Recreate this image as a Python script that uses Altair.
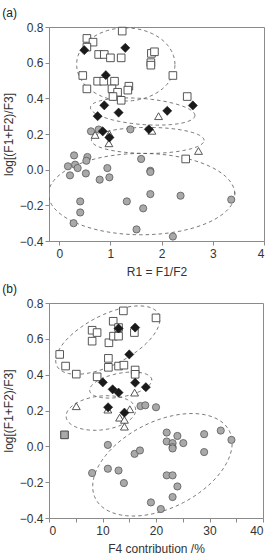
import altair as alt
import pandas as pd

FONT = "Liberation Sans"

# ---------------- panel (a): x = R1 = F1/F2 ----------------
a_sq_x = [1.23, 0.54, 0.66, 0.54, 0.77, 0.88, 1.00, 1.21, 1.80, 1.86, 1.79, 1.79, 2.22, 0.46,
          0.54, 0.75, 0.87, 1.08, 1.03, 1.14, 1.05, 1.36, 1.34, 1.21, 2.50, 2.47]
a_sq_y = [0.777, 0.736, 0.715, 0.687, 0.646, 0.646, 0.627, 0.627, 0.652, 0.661, 0.600, 0.586, 0.528, 0.528,
          0.453, 0.496, 0.496, 0.496, 0.453, 0.434, 0.410, 0.468, 0.446, 0.389, 0.410, 0.060]
a_di_x = [0.49, 1.29, 0.91, 0.88, 0.75, 1.16, 2.11, 2.61, 0.85, 1.75, 0.98]
a_di_y = [0.670, 0.683, 0.530, 0.361, 0.300, 0.320, 0.330, 0.360, 0.215, 0.226, 0.180]
a_tr_x = [1.94, 0.70, 0.98, 0.97, 1.81, 2.72]
a_tr_y = [0.300, 0.195, 0.200, 0.148, 0.218, 0.105]
a_ci_x = [0.62, 0.77, 1.39, 0.29, 0.17, 0.31, 0.36, 0.21, 0.55, 0.53, 0.52, 0.94, 0.98, 0.79,
          1.60, 1.78, 1.78, 1.78, 2.37, 3.36, 1.32, 0.41, 0.41, 1.64, 0.28, 1.51, 2.22]
a_ci_y = [0.215, 0.225, 0.226, 0.080, 0.019, 0.028, 0.009, -0.032, 0.071, 0.050, -0.021, 0.009, -0.043, -0.056,
          0.060, -0.006, -0.013, -0.137, -0.146, -0.168, -0.178, -0.178, -0.240, -0.217, -0.300, -0.335, -0.375]
a_gs_x = []
a_gs_y = []

# cluster outlines of panel (a): centre and two conjugate semi-axes (data units)
a_el_cx = [1.30, 1.63, 1.73, 1.61]
a_el_cy = [0.590, 0.326, 0.164, -0.137]
a_el_ux = [0.96, 1.02, 1.10, 1.82]
a_el_uy = [0.0, -0.022, 0.0, 0.0]
a_el_vx = [0.0, 0.0, 0.0, 0.0]
a_el_vy = [0.205, 0.073, 0.073, 0.228]

# ---------------- panel (b): x = F4 contribution / % ----------------
b_sq_x = [13.9, 20.0, 12.0, 8.06, 8.99, 8.06, 11.2, 12.05, 13.0, 15.96, 2.0, 3.1, 5.1,
          11.1, 11.1, 13.0, 14.0, 16.1, 16.1, 9.0, 13.0]
b_sq_y = [0.756, 0.717, 0.698, 0.648, 0.635, 0.587, 0.578, 0.615, 0.615, 0.635, 0.513, 0.448, 0.403,
          0.491, 0.441, 0.448, 0.453, 0.426, 0.402, 0.388, 0.663]
b_di_x = [13.0, 16.1, 15.0, 10.06, 11.9, 13.0, 16.1, 18.1, 11.05, 14.1]
b_di_y = [0.658, 0.663, 0.513, 0.357, 0.318, 0.300, 0.355, 0.330, 0.218, 0.188]
b_tr_x = [16.0, 5.1, 11.0, 15.1, 13.2, 14.1, 14.1]
b_tr_y = [0.300, 0.224, 0.205, 0.207, 0.160, 0.148, 0.110]
b_ci_x = [17.1, 18.0, 20.0, 22.0, 24.0, 22.0, 23.1, 23.1, 23.1, 25.1, 29.0, 32.1, 34.1, 29.0,
          11.0, 16.0, 17.0, 8.06, 11.0, 13.0, 14.0, 22.0, 23.1, 24.0, 23.1, 19.05, 20.9]
b_ci_y = [0.225, 0.229, 0.218, 0.077, 0.058, 0.027, 0.018, -0.004, -0.012, 0.018, 0.068, 0.088, 0.036, -0.032,
          0.008, -0.042, -0.023, -0.149, -0.125, -0.135, -0.205, -0.162, -0.162, -0.224, -0.283, -0.313, -0.350]
b_gs_x = [2.9]
b_gs_y = [0.064]

b_el_cx = [10.99, 13.4, 9.7, 21.2]
b_el_cy = [0.593, 0.342, 0.186, -0.103]
b_el_ux = [9.5, 5.8, 6.5, 13.0]
b_el_uy = [0.145, 0.028, 0.017, 0.139]
b_el_vx = [2.12, 0.0, 0.0, -0.93]
b_el_vy = [-0.124, 0.067, 0.095, 0.25]


def make_points(sq, di, tr, ci, gs):
    rows = []
    for kind, (xs, ys) in [("ci", ci), ("gs", gs), ("sq", sq), ("tr", tr), ("di", di)]:
        for x, y in zip(xs, ys):
            rows.append({"x": x, "y": y, "kind": kind})
    return pd.DataFrame(rows)


def make_ellipses(cx, cy, ux, uy, vx, vy):
    return pd.DataFrame({"id": list(range(len(cx))), "cx": cx, "cy": cy,
                         "ux": ux, "uy": uy, "vx": vx, "vy": vy})


def panel(pts, ells, xdom, xvals, xlabelexpr, xtitle, label, w, h):
    xenc = alt.X("x:Q", scale=alt.Scale(domain=xdom, nice=False, zero=False),
                 axis=alt.Axis(values=xvals, labelExpr=xlabelexpr, title=xtitle,
                               labelPadding=3, titlePadding=7))
    yenc = alt.Y("y:Q", scale=alt.Scale(domain=[-0.4, 0.8], nice=False, zero=False),
                 axis=alt.Axis(values=[-0.4, -0.2, 0.0, 0.2, 0.4, 0.6, 0.8], format=".1f",
                               title="log[(F1+F2)/F3]", labelPadding=2, titlePadding=4))

    outline = alt.Chart(ells).transform_calculate(
        t="sequence(0, 6.36, 0.05)"
    ).transform_flatten(["t"]).transform_calculate(
        x="datum.cx + datum.ux*cos(datum.t) + datum.vx*sin(datum.t)",
        y="datum.cy + datum.uy*cos(datum.t) + datum.vy*sin(datum.t)",
    ).mark_line(clip=True, strokeDash=[3.5, 3], color="#555", strokeWidth=0.8).encode(
        x=xenc, y=yenc, detail="id:N", order="t:Q")

    base = alt.Chart(pts)
    ci = base.transform_filter("datum.kind == 'ci'").mark_point(
        shape="circle", filled=True, fill="#a9a9a9", stroke="#5a5a5a", strokeWidth=0.8,
        size=52, opacity=1).encode(x=xenc, y=yenc)
    gs = base.transform_filter("datum.kind == 'gs'").mark_point(
        shape="square", filled=True, fill="#a9a9a9", stroke="#444", strokeWidth=1,
        size=58, opacity=1).encode(x=xenc, y=yenc)
    sq = base.transform_filter("datum.kind == 'sq'").mark_point(
        shape="square", filled=True, fill="white", stroke="#444", strokeWidth=0.9,
        size=58, opacity=1).encode(x=xenc, y=yenc)
    tr = base.transform_filter("datum.kind == 'tr'").mark_point(
        shape="triangle-up", filled=True, fill="white", stroke="#444", strokeWidth=0.9,
        size=62, opacity=1).encode(x=xenc, y=yenc)
    di = base.transform_filter("datum.kind == 'di'").mark_point(
        shape="diamond", filled=True, fill="#1a1a1a", stroke="#1a1a1a", strokeWidth=0.5,
        size=85, opacity=1).encode(x=xenc, y=yenc)

    return alt.layer(outline, ci, gs, sq, tr, di).properties(
        width=w, height=h,
        title=alt.TitleParams(label, anchor="start", frame="bounds", fontSize=12,
                              fontWeight="normal", font=FONT, color="#222", offset=1),
    )


pa = panel(make_points((a_sq_x, a_sq_y), (a_di_x, a_di_y), (a_tr_x, a_tr_y),
                       (a_ci_x, a_ci_y), (a_gs_x, a_gs_y)),
           make_ellipses(a_el_cx, a_el_cy, a_el_ux, a_el_uy, a_el_vx, a_el_vy),
           [-0.2, 4.0], [0, 1, 2, 3, 4], "datum.label", "R1 = F1/F2", "(a)", 215, 214)

pb = panel(make_points((b_sq_x, b_sq_y), (b_di_x, b_di_y), (b_tr_x, b_tr_y),
                       (b_ci_x, b_ci_y), (b_gs_x, b_gs_y)),
           make_ellipses(b_el_cx, b_el_cy, b_el_ux, b_el_uy, b_el_vx, b_el_vy),
           [0, 40], [0, 5, 10, 15, 20, 25, 30, 35, 40],
           "datum.value % 10 == 0 ? datum.label : ''", "F4 contribution /%", "(b)", 214, 215)

chart = alt.vconcat(pa, pb, spacing=4).properties(
    padding={"left": 1, "top": 6, "right": 0, "bottom": 0}
).configure_view(
    stroke="#8a8a8a", strokeWidth=1
).configure_axis(
    grid=False, domainColor="#8a8a8a", tickColor="#8a8a8a", tickSize=4,
    labelColor="#333", titleColor="#333", labelFont=FONT, titleFont=FONT,
    labelFontSize=12, titleFontSize=12, titleFontWeight="normal"
)

chart.save("out.html", embed_options={"renderer": "svg", "actions": False})
